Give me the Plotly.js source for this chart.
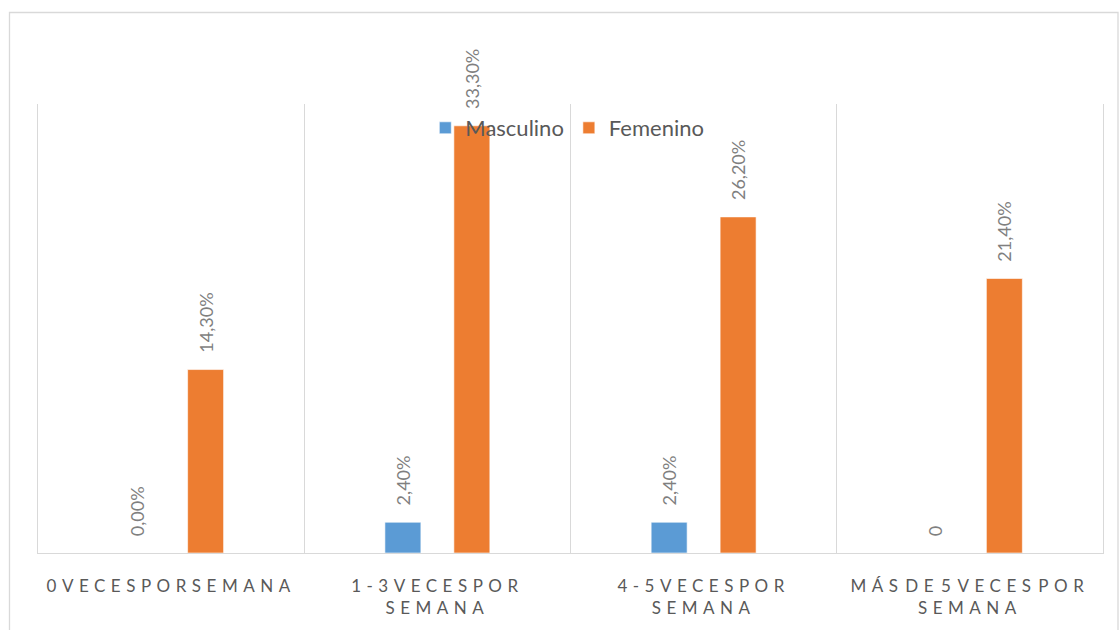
<!DOCTYPE html>
<html>
<head>
<meta charset="utf-8">
<script src="https://cdn.plot.ly/plotly-3.0.1.min.js"></script>
<style>
  html, body { margin: 0; padding: 0; background: #ffffff; }
  #chart { width: 1119px; height: 630px; }
  /* spaced capitals on the category labels, with tight word gaps */
  #chart .xtick text { letter-spacing: 5.5px; word-spacing: -8px; }
</style>
</head>
<body>
<div id="chart"></div>
<script>
// Frecuencia semanal por sexo
const categories = [
  '0VECESPORSEMANA',
  '1-3VECESPOR<br>SEMANA',
  '4-5VECESPOR<br>SEMANA',
  'MÁS DE 5 VECES POR<br>SEMANA'
];
const masculino = [0.000, 0.024, 0.024, 0];
const femenino = [0.143, 0.333, 0.262, 0.214];
const masculinoLabels = ['0,00%', '2,40%', '2,40%', '0'];
const femeninoLabels = ['14,30%', '33,30%', '26,20%', '21,40%'];

const FONT = 'Lato, "Liberation Sans", sans-serif';
const W = 1119, H = 630;
const M = { l: 38, r: 16, t: 104, b: 77 };
const pw = W - M.l - M.r, ph = H - M.t - M.b;

const labelFont = { family: FONT, size: 18, color: '#7f7f7f' };

function series(name, values, labels, color) {
  return {
    type: 'bar',
    name: name,
    x: categories,
    y: values,
    text: labels,
    texttemplate: '\u00a0\u00a0\u00a0%{text}',
    textposition: 'outside',
    textangle: -90,
    constraintext: 'none',
    cliponaxis: false,
    textfont: labelFont,
    marker: { color: color, line: { color: 'rgba(255,255,255,0.6)', width: 1 } },
    hoverinfo: 'skip'
  };
}

const data = [
  series('Masculino', masculino, masculinoLabels, '#5B9BD5'),
  series('Femenino', femenino, femeninoLabels, '#ED7D31')
];

const layout = {
  width: W, height: H,
  margin: M,
  paper_bgcolor: '#ffffff',
  plot_bgcolor: '#ffffff',
  barmode: 'group',
  bargap: 0.482,
  bargroupgap: 0.478,
  showlegend: true,
  legend: {
    orientation: 'h',
    x: 0.497, xanchor: 'center',
    y: (H - M.b - 128) / ph, yanchor: 'middle',
    bgcolor: 'rgba(0,0,0,0)',
    font: { family: FONT, size: 22, color: '#595959' },
    itemwidth: 30,
    traceorder: 'normal'
  },
  xaxis: {
    type: 'category',
    tickson: 'boundaries',
    showgrid: true,
    gridcolor: '#d9d9d9',
    gridwidth: 1,
    showline: true,
    linecolor: '#d9d9d9',
    linewidth: 1.3,
    ticks: '',
    ticklabelstandoff: 17,
    tickfont: { family: FONT, size: 17, color: '#595959' },
    fixedrange: true
  },
  yaxis: {
    range: [0, 0.35],
    showticklabels: false,
    ticks: '',
    showgrid: false,
    zeroline: false,
    showline: true,
    mirror: true,
    linecolor: '#d9d9d9',
    linewidth: 1,
    fixedrange: true
  },
  shapes: [{
    type: 'rect', xref: 'paper', yref: 'paper',
    x0: (9.5 - M.l) / pw, x1: (1118 - M.l) / pw,
    y0: -0.6, y1: (H - M.b - 12.5) / ph,
    line: { color: '#d9d9d9', width: 1.3 },
    fillcolor: 'rgba(0,0,0,0)',
    layer: 'below'
  }]
};

Plotly.newPlot('chart', data, layout, { displayModeBar: false, staticPlot: true });
</script>
</body>
</html>
